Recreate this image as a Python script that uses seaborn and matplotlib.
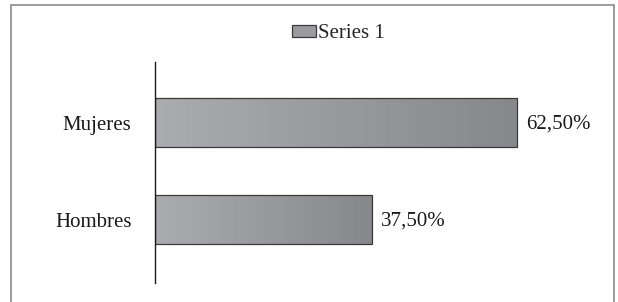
from matplotlib import pyplot as plt
from matplotlib.patches import Rectangle, Patch
import numpy as np
import pandas as pd
import seaborn as sns

categories = ["Mujeres", "Hombres"]
values = [62.5, 37.5]
value_labels = ["62,50%", "37,50%"]
series_name = "Series 1"

sns.set_theme(style="white")
plt.rcParams["font.family"] = ["Liberation Serif", "DejaVu Serif"]

W, H = 618, 302
fig = plt.figure(figsize=(W / 100, H / 100), dpi=100)
# axes in pixel coords: x from 155 to 600, y from 62 to 283 (top-down)
ax = fig.add_axes([155 / W, 1 - 283 / H, (600 - 155) / W, (283 - 62) / H])

df = pd.DataFrame({"cat": categories, "val": values})
sns.barplot(data=df, x="val", y="cat", order=categories, ax=ax,
            color="#9a9b9f", width=0.505, edgecolor="#3a3a3a", linewidth=0.9,
            saturation=1)

# gradient fill for bars
grad = np.linspace(0, 1, 256).reshape(1, -1)
cmap = sns.blend_palette(["#abacb0", "#87888c"], as_cmap=True)
for p in ax.patches:
    x0, y0 = p.get_x(), p.get_y()
    w, h = p.get_width(), p.get_height()
    im = ax.imshow(grad, cmap=cmap, extent=[x0, x0 + w, y0 + h, y0],
                   aspect="auto", zorder=p.get_zorder() - 0.1)
    im.set_clip_path(p)
    p.set_facecolor("none")
    p.set_zorder(p.get_zorder() + 0.2)
ax.set_xlim(0, 445 / 5.79)
ax.set_ylim(1.655, -0.625)

for i, (v, lab) in enumerate(zip(values, value_labels)):
    ax.text(v + 1.6, i + 0.02, lab, va="center", ha="left", fontsize=15, color="#1a1a1a")

ax.set_xlabel("")
ax.set_ylabel("")
ax.set_xticks([])
ax.tick_params(axis="y", labelsize=15, length=0, pad=17, colors="#1a1a1a")
for s in ["top", "right", "bottom"]:
    ax.spines[s].set_visible(False)
ax.spines["left"].set_color("#1a1a1a")
ax.spines["left"].set_linewidth(1.0)

handle = Patch(facecolor="#9a9b9f", edgecolor="#3a3a3a", linewidth=0.9)
fig.legend([handle], [series_name], loc="center", bbox_to_anchor=(338 / W, 1 - 34 / H),
           frameon=False, fontsize=15, handlelength=1.15, handleheight=0.55,
           handletextpad=0.1, borderaxespad=0)

# outer frame
fig.patches.append(Rectangle((11 / W, -0.05), (614 - 11) / W, (H - 5) / H + 0.05,
                             transform=fig.transFigure, fill=False,
                             edgecolor="#8a8a8a", linewidth=1.2))

fig.savefig("out.png", dpi=100)
